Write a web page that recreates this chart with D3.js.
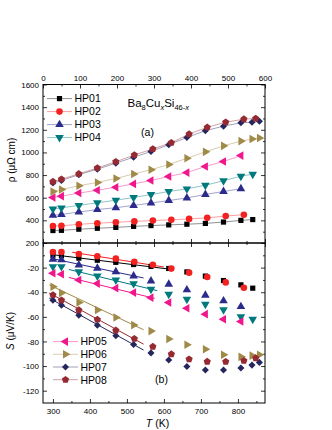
<!DOCTYPE html>
<html>
<head>
<meta charset="utf-8">
<script src="https://cdn.jsdelivr.net/npm/d3@7"></script>
<style>
  body { margin: 0; background: #fff; }
  svg { display: block; }
  text { font-family: "Liberation Sans", Arial, sans-serif; }
</style>
</head>
<body>
<div id="chart"></div>
<script>
// sample names
const samples = ["HP01", "HP02", "HP03", "HP04", "HP05", "HP06", "HP07", "HP08"]

// measuring temperatures (K) per sample
const tempHP01 = [300, 323, 370, 420, 470, 518, 565, 613, 662, 712, 761, 808, 840]
const tempHP02 = [300, 323, 370, 420, 470, 520, 570, 620, 668, 717, 767, 816]
const tempHP03 = [300, 323, 370, 420, 470, 518, 565, 613, 662, 712, 761, 808]
const tempHP04 = [300, 323, 370, 420, 470, 518, 565, 613, 662, 712, 761, 808, 840]
const tempHP05 = [300, 323, 370, 420, 470, 518, 565, 613, 662, 712, 761, 808]
const tempHP06 = [300, 323, 370, 420, 470, 518, 565, 613, 662, 712, 761, 808, 838, 858]
const tempHP07 = [300, 323, 370, 420, 470, 518, 565, 613, 662, 712, 761, 808, 838, 858]
const tempHP08 = [300, 323, 370, 420, 470, 520, 570, 620, 668, 717, 767, 816, 848]

// resistivity (μΩ cm)
const rhoHP01 = [310, 312, 322, 330, 338, 347, 354, 360, 366, 373, 385, 400, 407]
const rhoHP02 = [350, 352, 365, 375, 383, 391, 398, 405, 413, 422, 438, 450]
const rhoHP03 = [445, 452, 474, 495, 512, 532, 553, 575, 598, 629, 655, 679]
const rhoHP04 = [500, 510, 532, 555, 578, 602, 628, 655, 678, 710, 750, 790, 808]
const rhoHP05 = [602, 614, 641, 666, 693, 722, 752, 788, 822, 876, 920, 972]
const rhoHP06 = [655, 672, 706, 735, 770, 810, 847, 893, 948, 1005, 1058, 1100, 1118, 1128]
const rhoHP07 = [730, 752, 803, 852, 905, 958, 1008, 1068, 1132, 1192, 1232, 1262, 1266, 1275]
const rhoHP08 = [742, 763, 811, 863, 918, 977, 1031, 1086, 1162, 1222, 1267, 1294, 1300]

// Seebeck coefficient (μV/K)
const seebHP01 = [-10, -10.3, -12.3, -14, -15.7, -17.5, -19, -20.7, -23.5, -26.9, -30.5, -34, -36.7]
const seebHP02 = [-7.3, -7.3, -9, -10.8, -12.7, -15.3, -17.7, -20.8, -24.1, -27.6, -32, -36.3]
const seebHP03 = [-13.2, -13.7, -17.8, -20.5, -23.3, -26.8, -30.8, -33.5, -38.1, -42.4, -47, -51.7]
const seebHP04 = [-19.2, -19.2, -23.3, -26.8, -30, -33, -37.6, -41.6, -45.7, -49.7, -54.3, -60, -61.9]
const seebHP05 = [-24.6, -25.4, -30, -33, -36.7, -40.3, -44.4, -48.4, -53, -57.8, -61.9, -63.8]
const seebHP06 = [-35.5, -40.5, -48.3, -54.5, -60.5, -66.7, -71.6, -78, -82.7, -86.3, -90.8, -92.5, -91.5, -90.8]
const seebHP07 = [-46.5, -50.6, -58.7, -66.8, -75.3, -82.5, -89.3, -95, -100.3, -103.2, -103.2, -101.6, -99.2, -97]
const seebHP08 = [-42.2, -46.5, -54.5, -62.2, -71, -77.8, -84.2, -90.3, -94.4, -96.4, -96.5, -95.7, -93.5]

// linear fits in panel (b): [T start, S start, T end, S end]
const fitHP01 = [300, -9.5, 622, -21.5]
const fitHP02 = [352, -7.5, 600, -19.5]
const fitHP03 = [300, -12.8, 545, -28.4]
const fitHP04 = [343, -21.5, 582, -38.7]
const fitHP05 = [343, -28, 575, -45]
const fitHP06 = [290, -34, 545, -70.5]
const fitHP07 = [290, -44.8, 545, -87]
const fitHP08 = [290, -40.6, 545, -82.2]

// tick values
const celsiusTicks = [0, 100, 200, 300, 400, 500, 600]
const celsiusMinor = [50, 150, 250, 350, 450, 550]
const kelvinTicks = [300, 400, 500, 600, 700, 800]
const kelvinMinor = [350, 450, 550, 650, 750, 850]
const rhoTicks = [200, 400, 600, 800, 1000, 1200, 1400, 1600]
const rhoMinor = [300, 500, 700, 900, 1100, 1300, 1500]
const seebTicks = [-20, -40, -60, -80, -100, -120]
const seebMinor = [-10, -30, -50, -70, -90, -110]

// 五边形符号
const symbolPentagon = {
  draw(ctx, size) {
    const r = Math.sqrt(size / (2.5 * Math.sin((2 * Math.PI) / 5)))
    for (let i = 0; i < 5; i++) {
      const a = -Math.PI / 2 + (i * 2 * Math.PI) / 5
      if (i === 0) ctx.moveTo(r * Math.cos(a), r * Math.sin(a))
      else ctx.lineTo(r * Math.cos(a), r * Math.sin(a))
    }
    ctx.closePath()
  },
}

const style = {
  HP01: { color: "#000000", type: d3.symbolSquare, size: 27, rot: 0 },
  HP02: { color: "#f22222", type: d3.symbolCircle, size: 34, rot: 0 },
  HP03: { color: "#2b2b8c", type: d3.symbolTriangle, size: 32, rot: 0 },
  HP04: { color: "#007a7d", type: d3.symbolTriangle, size: 32, rot: 180 },
  HP05: { color: "#f0168c", type: d3.symbolTriangle, size: 32, rot: -90 },
  HP06: { color: "#a08a48", type: d3.symbolTriangle, size: 32, rot: 90 },
  HP07: { color: "#26265e", type: d3.symbolSquare, size: 25, rot: 45 },
  HP08: { color: "#952a33", type: symbolPentagon, size: 34, rot: 0 },
}

const temps = { HP01: tempHP01, HP02: tempHP02, HP03: tempHP03, HP04: tempHP04, HP05: tempHP05, HP06: tempHP06, HP07: tempHP07, HP08: tempHP08 }
const rhos = { HP01: rhoHP01, HP02: rhoHP02, HP03: rhoHP03, HP04: rhoHP04, HP05: rhoHP05, HP06: rhoHP06, HP07: rhoHP07, HP08: rhoHP08 }
const seebs = { HP01: seebHP01, HP02: seebHP02, HP03: seebHP03, HP04: seebHP04, HP05: seebHP05, HP06: seebHP06, HP07: seebHP07, HP08: seebHP08 }
const fits = { HP01: fitHP01, HP02: fitHP02, HP03: fitHP03, HP04: fitHP04, HP05: fitHP05, HP06: fitHP06, HP07: fitHP07, HP08: fitHP08 }

const pLeft = 43, pRight = 265, pTop = 84.5, pMid = 243, pBottom = 403

const xK = d3.scaleLinear().domain([273.15, 873.15]).range([pLeft, pRight])
const xC = d3.scaleLinear().domain([0, 600]).range([pLeft, pRight])
const yR = d3.scaleLinear().domain([200, 1600]).range([pMid, pTop])
const yS = d3.scaleLinear().domain([-130, 0]).range([pBottom, pMid])

const svg = d3.select("#chart").append("svg").attr("width", 332).attr("height", 430)

const markerPath = (name) => d3.symbol().type(style[name].type).size(style[name].size)()
const plain = (d) => String(d)

function drawAxis(axis, transform, showLabels) {
  const g = svg.append("g").attr("transform", transform).call(axis.tickFormat(plain))
  g.select(".domain").remove()
  g.selectAll(".tick line").attr("stroke", "#000").attr("stroke-width", 0.8)
  g.selectAll(".tick text").attr("font-size", "8px").attr("fill", "#000")
    .attr("font-family", '"Liberation Sans", Arial, sans-serif')
  if (!showLabels) g.selectAll(".tick text").remove()
  return g
}

// 刻度
drawAxis(d3.axisTop(xC).tickValues(celsiusTicks).tickSize(-4).tickPadding(4), `translate(0,${pTop})`, true)
drawAxis(d3.axisTop(xC).tickValues(celsiusMinor).tickSize(-2), `translate(0,${pTop})`, false)
drawAxis(d3.axisBottom(xC).tickValues(celsiusTicks).tickSize(-4), `translate(0,${pMid})`, false)
drawAxis(d3.axisBottom(xC).tickValues(celsiusMinor).tickSize(-2), `translate(0,${pMid})`, false)
drawAxis(d3.axisTop(xC).tickValues(celsiusTicks).tickSize(-4), `translate(0,${pMid})`, false)
drawAxis(d3.axisTop(xC).tickValues(celsiusMinor).tickSize(-2), `translate(0,${pMid})`, false)
drawAxis(d3.axisBottom(xK).tickValues(kelvinTicks).tickSize(-4).tickPadding(5), `translate(0,${pBottom})`, true)
drawAxis(d3.axisBottom(xK).tickValues(kelvinMinor).tickSize(-2), `translate(0,${pBottom})`, false)

drawAxis(d3.axisLeft(yR).tickValues(rhoTicks).tickSize(-4).tickPadding(4), `translate(${pLeft},0)`, true)
drawAxis(d3.axisLeft(yR).tickValues(rhoMinor).tickSize(-2), `translate(${pLeft},0)`, false)
drawAxis(d3.axisRight(yR).tickValues(rhoTicks).tickSize(-4), `translate(${pRight},0)`, false)
drawAxis(d3.axisRight(yR).tickValues(rhoMinor).tickSize(-2), `translate(${pRight},0)`, false)

drawAxis(d3.axisLeft(yS).tickValues(seebTicks).tickSize(-4).tickPadding(4), `translate(${pLeft},0)`, true)
drawAxis(d3.axisLeft(yS).tickValues(seebMinor).tickSize(-2), `translate(${pLeft},0)`, false)
drawAxis(d3.axisRight(yS).tickValues(seebTicks).tickSize(-4), `translate(${pRight},0)`, false)
drawAxis(d3.axisRight(yS).tickValues(seebMinor).tickSize(-2), `translate(${pRight},0)`, false)

// 边框
svg.append("rect").attr("x", pLeft).attr("y", pTop).attr("width", pRight - pLeft).attr("height", pMid - pTop)
  .attr("fill", "none").attr("stroke", "#000").attr("stroke-width", 1)
svg.append("rect").attr("x", pLeft).attr("y", pMid).attr("width", pRight - pLeft).attr("height", pBottom - pMid)
  .attr("fill", "none").attr("stroke", "#000").attr("stroke-width", 1)

// (a) 电阻率: 连线 + 点
const plotA = svg.append("g")
samples.forEach((name) => {
  const pts = temps[name].map((t, i) => [t, rhos[name][i]])
  plotA.append("path")
    .datum(pts)
    .attr("d", d3.line().x((d) => xK(d[0])).y((d) => yR(d[1])))
    .attr("fill", "none")
    .attr("stroke", style[name].color)
    .attr("stroke-opacity", 0.55)
    .attr("stroke-width", 0.8)
  plotA.selectAll(`.pa-${name}`)
    .data(pts)
    .enter()
    .append("path")
    .attr("class", `pa-${name}`)
    .attr("d", markerPath(name))
    .attr("fill", style[name].color)
    .attr("transform", (d) => `translate(${xK(d[0])},${yR(d[1])}) rotate(${style[name].rot})`)
})

// (b) 塞贝克系数: 拟合线 + 点
const plotB = svg.append("g")
samples.forEach((name) => {
  const f = fits[name]
  plotB.append("line")
    .attr("x1", xK(f[0])).attr("y1", yS(f[1]))
    .attr("x2", xK(f[2])).attr("y2", yS(f[3]))
    .attr("stroke", style[name].color)
    .attr("stroke-width", 1)
})
samples.forEach((name) => {
  const pts = temps[name].map((t, i) => [t, seebs[name][i]])
  plotB.selectAll(`.pb-${name}`)
    .data(pts)
    .enter()
    .append("path")
    .attr("class", `pb-${name}`)
    .attr("d", markerPath(name))
    .attr("fill", style[name].color)
    .attr("transform", (d) => `translate(${xK(d[0])},${yS(d[1])}) rotate(${style[name].rot})`)
})

// 图例
function legend(names, x0, y0, step) {
  names.forEach((name, i) => {
    const y = y0 + i * step
    const g = svg.append("g")
    g.append("line").attr("x1", x0).attr("x2", x0 + 25).attr("y1", y).attr("y2", y)
      .attr("stroke", style[name].color).attr("stroke-opacity", 0.55).attr("stroke-width", 0.8)
    g.append("path").attr("d", markerPath(name)).attr("fill", style[name].color)
      .attr("transform", `translate(${x0 + 12.5},${y}) rotate(${style[name].rot})`)
    g.append("text").text(name).attr("x", x0 + 27.5).attr("y", y + 3.8)
      .attr("font-size", "10.5px").attr("fill", "#000")
  })
}
legend(samples.slice(0, 4), 47, 98.6, 13)
legend(samples.slice(4), 53, 341.6, 12.7)

// 标题
const title = svg.append("text").attr("x", 127.5).attr("y", 107).attr("font-size", "11.5px").attr("fill", "#000")
title.append("tspan").text("Ba")
title.append("tspan").text("8").attr("font-size", "7.5px").attr("dy", 2.5)
title.append("tspan").text("Cu").attr("dy", -2.5)
title.append("tspan").text("x").attr("font-size", "7.5px").attr("font-style", "italic").attr("dy", 2.5)
title.append("tspan").text("Si").attr("dy", -2.5)
const sub = title.append("tspan").attr("font-size", "7.5px").attr("dy", 2.5)
sub.append("tspan").text("46-")
sub.append("tspan").text("x").attr("font-style", "italic")

svg.append("text").text("(a)").attr("x", 147.5).attr("y", 136).attr("text-anchor", "middle")
  .attr("font-size", "10.5px").attr("fill", "#000")
svg.append("text").text("(b)").attr("x", 161.5).attr("y", 383).attr("text-anchor", "middle")
  .attr("font-size", "10.5px").attr("fill", "#000")

// 坐标轴标题
svg.append("text").text("ρ (μΩ cm)")
  .attr("transform", "translate(14.5,160) rotate(-90)")
  .attr("text-anchor", "middle").attr("font-size", "10px").attr("fill", "#000")
const sLabel = svg.append("text")
  .attr("transform", "translate(14,331) rotate(-90)")
  .attr("text-anchor", "middle").attr("font-size", "10px").attr("fill", "#000")
sLabel.append("tspan").text("S").attr("font-style", "italic")
sLabel.append("tspan").text(" (μV/K)")
const tLabel = svg.append("text").attr("x", 157.5).attr("y", 427)
  .attr("text-anchor", "middle").attr("font-size", "10.5px").attr("fill", "#000")
tLabel.append("tspan").text("T").attr("font-style", "italic")
tLabel.append("tspan").text(" (K)")
</script>
</body>
</html>
